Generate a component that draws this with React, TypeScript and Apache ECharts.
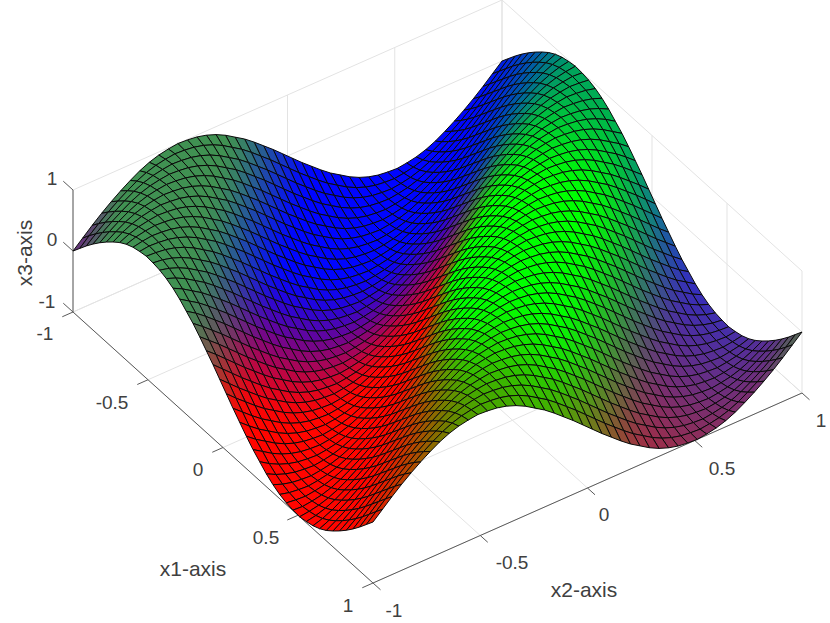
import React, { useEffect, useRef } from "react";
import * as echarts from "echarts";

const x1Ticks = [-1, -0.5, 0, 0.5, 1];
const x2Ticks = [-1, -0.5, 0, 0.5, 1];
const x3Ticks = [-1, 0, 1];
const x1TickLabels = ["-1", "-0.5", "0", "0.5", "1"];
const x2TickLabels = ["-1", "-0.5", "0", "0.5", "1"];
const x3TickLabels = ["-1", "0", "1"];
const meshCells = 45;

// Height estimated along the front edges of the surface (x2=-1 then x1=1); index = i + j on the mesh
const edgeHeights = [
  0, 0.14, 0.28, 0.41, 0.53, 0.64, 0.74, 0.83, 0.9, 0.95, 0.98, 1, 0.99, 0.97, 0.93, 0.87, 0.79, 0.69, 0.59, 0.47, 0.34, 0.21, 0.07,
  -0.07, -0.21, -0.34, -0.47, -0.59, -0.69, -0.79, -0.87, -0.93, -0.97, -0.99, -1, -0.98, -0.95, -0.9, -0.83, -0.74, -0.64, -0.53, -0.41, -0.28, -0.14,
  0, 0.14, 0.28, 0.41, 0.53, 0.64, 0.74, 0.83, 0.9, 0.95, 0.98, 1, 0.99, 0.97, 0.93, 0.87, 0.79, 0.69, 0.59, 0.47, 0.34, 0.21, 0.07,
  -0.07, -0.21, -0.34, -0.47, -0.59, -0.69, -0.79, -0.87, -0.93, -0.97, -0.99, -1, -0.98, -0.95, -0.9, -0.83, -0.74, -0.64, -0.53, -0.41, -0.28, -0.14,
  0,
];

const project = (x1: number, x2: number, x3: number): [number, number] => {
  const a = x1 + 1;
  const b = x2 + 1;
  return [73 + 150 * a + 214.5 * b, 312 + 135.5 * a - 95 * b - 61 * (x3 + 1)];
};

const sm = (e0: number, e1: number, v: number) => {
  const k = Math.min(1, Math.max(0, (v - e0) / (e1 - e0)));
  return k * k * (3 - 2 * k);
};
const lerp3 = (p: number[], q: number[], w: number) => p.map((c, n) => c + (q[n] - c) * w);

// Colour scale of the surface, matched by eye to the reference
const colourAt = (x1: number, x2: number): string => {
  const s = x1 + x2;
  const t = x1 - x2;
  const abs = Math.abs(t);
  const red = sm(-0.6, 0.1, x1);
  const valley1 = [red, 0.02, 1 - red];
  const e = sm(0.4, 1.5, abs);
  const hill = [t > 0 ? 0.28 * e : 0, 1 - 0.35 * e, t < 0 ? 0.35 * e : 0];
  const valley2 = [0.41 + 0.3 * t, 0.18, 0.51 - 0.33 * t];
  const hill2 = [0.25, 0.57, 0.32];
  const w0 = 0.06 + 0.2 * abs;
  const centre = 0.03 + 0.1 * abs;
  let c = lerp3(valley1, hill, sm(centre - w0, centre + w0, s));
  c = lerp3(c, valley2, sm(0.7, 1.3, s));
  c = lerp3(hill2, c, sm(-1.3, -0.85, s));
  c = lerp3(c, [0.4, 0.19, 0.48], sm(-1.72, -2, s));
  c = lerp3(c, [0.33, 0.4, 0.34], sm(1.75, 2, s));
  const byte = c.map((v) => Math.round(255 * Math.min(1, Math.max(0, v))));
  return `rgb(${byte[0]},${byte[1]},${byte[2]})`;
};

const meshAt = (i: number) => -1 + (2 * i) / meshCells;

const cells: number[][] = [];
for (let i = 0; i < meshCells; i++) {
  for (let j = meshCells - 1; j >= 0; j--) cells.push([i, j]);
}

type Seg = [number, number, number, number, number, number];
const gridSegs: Seg[] = [];
x1Ticks.forEach((t) => {
  gridSegs.push([t, -1, -1, t, 1, -1]);
  gridSegs.push([t, 1, -1, t, 1, 1]);
});
x2Ticks.forEach((t) => {
  gridSegs.push([-1, t, -1, 1, t, -1]);
  gridSegs.push([-1, t, -1, -1, t, 1]);
});
x3Ticks.forEach((t) => {
  gridSegs.push([-1, -1, t, -1, 1, t]);
  gridSegs.push([-1, 1, t, 1, 1, t]);
});

const axisSegs: Seg[] = [
  [-1, -1, -1, 1, -1, -1],
  [1, -1, -1, 1, 1, -1],
  [-1, -1, -1, -1, -1, 1],
];
x1Ticks.forEach((t) => axisSegs.push([t, -1, -1, t, -1.05, -1]));
x2Ticks.forEach((t) => axisSegs.push([1, t, -1, 1.05, t, -1]));
x3Ticks.forEach((t) => axisSegs.push([-1, -1, t, -1.065, -1, t]));

const segSeries = (data: Seg[], colour: string, width: number) => ({
  type: "custom",
  coordinateSystem: "cartesian2d",
  silent: true,
  clip: false,
  data,
  encode: { x: 0, y: 1 },
  renderItem: (_p: any, api: any) => {
    const s = project(api.value(0), api.value(1), api.value(2));
    const e = project(api.value(3), api.value(4), api.value(5));
    const a = api.coord(s);
    const b = api.coord(e);
    return {
      type: "line",
      shape: { x1: a[0], y1: a[1], x2: b[0], y2: b[1] },
      style: { stroke: colour, lineWidth: width, fill: "none" },
    };
  },
});

const tickText = (text: string, x: number, y: number, size = 19, rotation = 0) => ({
  type: "text",
  x,
  y,
  rotation,
  silent: true,
  style: {
    text,
    fill: "#404040",
    font: `${size}px "Liberation Sans", Arial, sans-serif`,
    align: "center",
    verticalAlign: "middle",
  },
});

const x1LabelPos = [[45, 333], [112, 402], [198, 469], [266, 537], [348, 605]];
const x2LabelPos = [[394, 610], [512, 562], [604, 514], [722, 468], [821, 420]];
const x3LabelPos = [[47, 301], [52, 239], [52, 178]];

export default function App() {
  const ref = useRef<HTMLDivElement>(null);
  useEffect(() => {
    const chart = echarts.init(ref.current!, undefined, { renderer: "svg" });
    chart.setOption({
      animation: false,
      backgroundColor: "#ffffff",
      grid: { left: 0, right: 0, top: 0, bottom: 0 },
      xAxis: { type: "value", min: 0, max: 830, show: false },
      yAxis: { type: "value", min: 0, max: 623, inverse: true, show: false },
      graphic: [
        ...x1TickLabels.map((t, i) => tickText(t, x1LabelPos[i][0], x1LabelPos[i][1])),
        ...x2TickLabels.map((t, i) => tickText(t, x2LabelPos[i][0], x2LabelPos[i][1])),
        ...x3TickLabels.map((t, i) => tickText(t, x3LabelPos[i][0], x3LabelPos[i][1])),
        tickText("x1-axis", 193, 568, 21),
        tickText("x2-axis", 584, 589, 21),
        tickText("x3-axis", 24, 253, 21, Math.PI / 2),
      ],
      series: [
        segSeries(gridSegs, "#e3e3e3", 1),
        segSeries(axisSegs, "#5a5a5a", 1),
        {
          type: "custom",
          coordinateSystem: "cartesian2d",
          silent: true,
          clip: false,
          progressive: 0,
          data: cells,
          encode: { x: 0, y: 1 },
          renderItem: (_p: any, api: any) => {
            const i = api.value(0);
            const j = api.value(1);
            const corner = (p: number, q: number) =>
              api.coord(project(meshAt(p), meshAt(q), edgeHeights[p + q]));
            return {
              type: "polygon",
              shape: {
                points: [corner(i, j), corner(i + 1, j), corner(i + 1, j + 1), corner(i, j + 1)],
              },
              style: {
                fill: colourAt(meshAt(i + 0.5), meshAt(j + 0.5)),
                stroke: "#0a0a0a",
                lineWidth: 1,
              },
            };
          },
        },
      ],
    });
    return () => chart.dispose();
  }, []);
  return (
    <div
      ref={ref}
      style={{ position: "absolute", left: 0, top: 0, width: 830, height: 623 }}
    />
  );
}
